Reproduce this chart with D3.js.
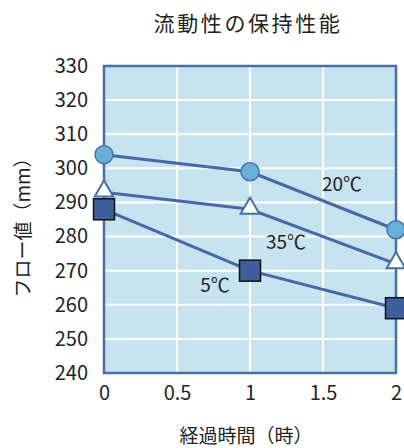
<!DOCTYPE html>
<html>
<head>
<meta charset="utf-8">
<script src="https://cdn.jsdelivr.net/npm/d3@7"></script>
<style>
  body { margin: 0; background: #fff; }
  text { font-family: "Noto Sans CJK JP", "Noto Sans", sans-serif; fill: #222; }
</style>
</head>
<body>
<div id="chart"></div>
<script>
// Flow retention chart
const hours = [0, 1, 2];
const flow20 = [304, 299, 282];
const flow35 = [293, 288, 272];
const flow5 = [288, 270, 259];
const seriesNames = ["20℃", "35℃", "5℃"];
const yTicks = [240, 250, 260, 270, 280, 290, 300, 310, 320, 330];
const xTicks = [0, 0.5, 1, 1.5, 2];

const W = 404, H = 448;
const margin = { top: 66, right: 8, bottom: 75, left: 104 };
const iw = W - margin.left - margin.right;
const ih = H - margin.top - margin.bottom;

const svg = d3.select("#chart").append("svg")
  .attr("width", W).attr("height", H);

const g = svg.append("g")
  .attr("transform", `translate(${margin.left},${margin.top})`);

const x = d3.scaleLinear().domain([0, 2]).range([0, iw]);
const y = d3.scaleLinear().domain([240, 330]).range([ih, 0]);

// plot background
g.append("rect").attr("width", iw).attr("height", ih).attr("fill", "#c6e3ef");

// grid
g.selectAll(".hgrid").data(yTicks.slice(1, -1)).enter().append("line")
  .attr("x1", 0).attr("x2", iw)
  .attr("y1", d => y(d)).attr("y2", d => y(d))
  .attr("stroke", "#fff").attr("stroke-width", 2);
g.selectAll(".vgrid").data(xTicks.slice(1, -1)).enter().append("line")
  .attr("y1", 0).attr("y2", ih)
  .attr("x1", d => x(d)).attr("x2", d => x(d))
  .attr("stroke", "#fff").attr("stroke-width", 2);

// border
g.append("rect").attr("width", iw).attr("height", ih)
  .attr("fill", "none").attr("stroke", "#4a6ea8").attr("stroke-width", 2.5);

// axes
const yAxis = g.append("g").call(d3.axisLeft(y).tickValues(yTicks).tickSize(0).tickPadding(16));
const xAxis = g.append("g").attr("transform", `translate(0,${ih})`)
  .call(d3.axisBottom(x).tickValues(xTicks).tickSize(0).tickPadding(13).tickFormat(d3.format("")));
[yAxis, xAxis].forEach(a => {
  a.select(".domain").remove();
  a.selectAll("text").attr("font-size", 20).attr("font-family", "'Liberation Sans', Arial, sans-serif").attr("fill", "#333");
});

const line = d3.line().x((d, i) => x(hours[i])).y(d => y(d));
const lineColor = "#4767a5";

[flow20, flow35, flow5].forEach(s => {
  g.append("path").datum(s).attr("d", line)
    .attr("fill", "none").attr("stroke", lineColor).attr("stroke-width", 3);
});

// markers: 20 circle
g.selectAll(".c20").data(flow20).enter().append("circle")
  .attr("cx", (d, i) => x(hours[i])).attr("cy", d => y(d)).attr("r", 9)
  .attr("fill", "#69b0d9").attr("stroke", "#4a70aa").attr("stroke-width", 1.5);

// 35 triangle
const tri = d3.symbol().type(d3.symbolTriangle).size(150);
g.selectAll(".t35").data(flow35).enter().append("path")
  .attr("d", tri)
  .attr("transform", (d, i) => `translate(${x(hours[i])},${y(d) - 1})`)
  .attr("fill", "#fff").attr("stroke", "#4a6ea8").attr("stroke-width", 2);

// 5 square
g.selectAll(".s5").data(flow5).enter().append("rect")
  .attr("x", (d, i) => x(hours[i]) - 10.5).attr("y", d => y(d) - 10.5)
  .attr("width", 21).attr("height", 21)
  .attr("fill", "#3e5f9b").attr("stroke", "#111").attr("stroke-width", 1.5);

// series labels
const labelPos = [[1.63, 294.8], [1.247, 277.8], [0.76, 265.2]];
seriesNames.forEach((n, i) => {
  g.append("text").attr("x", x(labelPos[i][0])).attr("y", y(labelPos[i][1]))
    .attr("text-anchor", "middle").attr("dominant-baseline", "middle")
    .attr("font-size", 19).text(n);
});

// title
svg.append("text").attr("x", 248).attr("y", 25)
  .attr("text-anchor", "middle").attr("dominant-baseline", "middle")
  .attr("font-size", 21).attr("letter-spacing", 2.6).text("流動性の保持性能");

// x title
svg.append("text").attr("x", 246).attr("y", 438)
  .attr("text-anchor", "middle").attr("dominant-baseline", "middle")
  .attr("font-size", 19).text("経過時間（時）");

// y title
svg.append("text").attr("transform", "translate(25,223) rotate(-90)")
  .attr("text-anchor", "middle").attr("dominant-baseline", "middle")
  .attr("font-size", 19).text("フロー値（mm）");
</script>
</body>
</html>
